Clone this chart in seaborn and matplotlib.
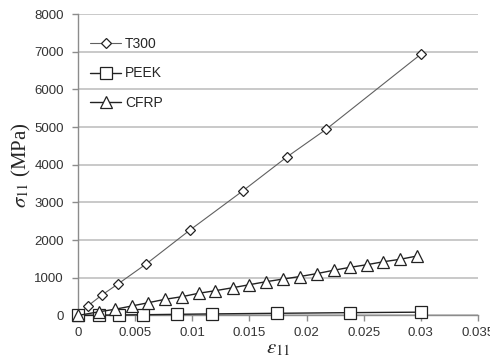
import matplotlib

matplotlib.use("Agg")

import matplotlib.pyplot as plt
import pandas as pd
import seaborn as sns

# strain / stress
t300_strain = [0, 0.0009, 0.0021, 0.0035, 0.0060, 0.0098, 0.0144, 0.0183, 0.0217, 0.0300]
t300_stress = [0, 260, 544, 835, 1374, 2268, 3302, 4212, 4939, 6935]

peek_strain = [0, 0.00187, 0.00362, 0.00567, 0.00866, 0.01173, 0.01743, 0.02377, 0.0300]
peek_stress = [0, 7, 13, 20, 31, 42, 58, 75, 88]

cfrp_strain = [0, 0.00187, 0.00325, 0.00471, 0.00617, 0.00763, 0.0091, 0.01055, 0.01202,
               0.01354, 0.0150, 0.01646, 0.01796, 0.01941, 0.02094, 0.0224, 0.0238,
               0.02526, 0.02673, 0.02818, 0.02965]
cfrp_stress = [0, 100, 165, 252, 340, 430, 499, 589, 658, 737, 817, 897, 968, 1034,
               1114, 1202, 1278, 1347, 1427, 1491, 1578]

x_ticks = [0, 0.005, 0.01, 0.015, 0.02, 0.025, 0.03, 0.035]
x_tick_labels = ["0", "0.005", "0.01", "0.015", "0.02", "0.025", "0.03", "0.035"]

sns.set_theme(style="white")
plt.rcParams["font.family"] = ["Liberation Sans", "DejaVu Sans"]
plt.rcParams["mathtext.fontset"] = "stix"

fig = plt.figure(figsize=(4.9, 3.62), dpi=100)
ax = fig.add_axes([0.159, 0.1285, 0.8165, 0.8325])

series = [
    ("T300", t300_strain, t300_stress, "D", 5.5, "#606060", 0.8),
    ("PEEK", peek_strain, peek_stress, "s", 9, "#222222", 1.0),
    ("CFRP", cfrp_strain, cfrp_stress, "^", 9, "#222222", 1.0),
]
for name, xs, ys, mk, ms, col, lw in series:
    df = pd.DataFrame({"strain": xs, "stress": ys})
    sns.lineplot(data=df, x="strain", y="stress", ax=ax, label=name, sort=False,
                 color=col, lw=lw, marker=mk, ms=ms, mfc="white", mec="#222222",
                 mew=0.9, estimator=None, clip_on=False, zorder=3)

ax.set_xlim(0, 0.035)
ax.set_ylim(0, 8000)
ax.set_xticks(x_ticks)
ax.set_xticklabels(x_tick_labels)
ax.set_yticks(range(0, 8001, 1000))
ax.yaxis.grid(True, color="#c0c0c0", lw=1.2)
ax.set_axisbelow(True)
for s in ["top", "right"]:
    ax.spines[s].set_visible(False)
for s in ["left", "bottom"]:
    ax.spines[s].set_color("#8c8c8c")
    ax.spines[s].set_linewidth(1.0)
ax.tick_params(axis="both", labelsize=9.5, colors="#8c8c8c", labelcolor="#333333",
               length=4, width=1.0, direction="out", bottom=True, left=True)
ax.tick_params(axis="y", pad=6)
ax.tick_params(axis="x", pad=4)

ax.set_xlabel(r"$\varepsilon_{11}$", fontsize=15, labelpad=0)
ax.set_ylabel(r"$\sigma_{11}$ (MPa)", fontsize=15, family="Liberation Serif", labelpad=1)

leg = ax.legend(loc="upper left", frameon=False, fontsize=10, handlelength=2.2,
                labelspacing=1.1, bbox_to_anchor=(0.0, 0.965), handletextpad=0.3)

fig.savefig("out.png", dpi=100)
